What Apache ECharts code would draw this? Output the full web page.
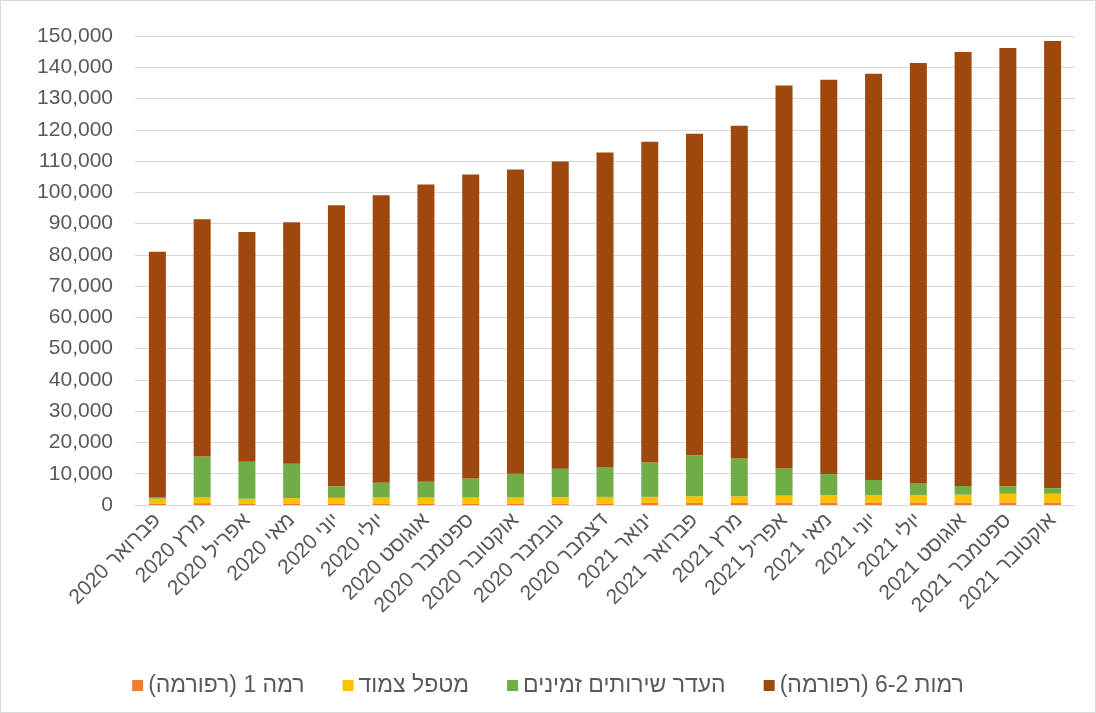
<!DOCTYPE html>
<html>
<head>
<meta charset="utf-8">
<script src="https://cdn.jsdelivr.net/npm/echarts@6/dist/echarts.min.js"></script>
<style>
html,body{margin:0;padding:0;background:#fff;}
#c{width:1096px;height:713px;box-sizing:border-box;border:1px solid #d9d9d9;direction:rtl;}
</style>
</head>
<body>
<div id="c"></div>
<script>
const categories = ['פברואר 2020','מרץ 2020','אפריל 2020','מאי 2020','יוני 2020','יולי 2020','אוגוסט 2020','ספטמבר 2020','אוקטובר 2020','נובמבר 2020','דצמבר 2020','ינואר 2021','פברואר 2021','מרץ 2021','אפריל 2021','מאי 2021','יוני 2021','יולי 2021','אוגוסט 2021','ספטמבר 2021','אוקטובר 2021'];
const seriesNames = ['רמה 1 (רפורמה)','מטפל צמוד','העדר שירותים זמינים','רמות 6-2 (רפורמה)'];
const level1 = [400,600,500,500,500,500,500,500,500,500,500,700,700,700,800,800,800,800,800,800,800];
const companion = [1600,1800,1500,1700,1800,1900,1900,1900,1900,2000,2100,1900,2100,2100,2200,2300,2400,2400,2500,2800,2800];
const noServices = [500,13100,11800,11000,3700,4700,5000,6100,7600,9100,9500,11000,13100,12100,8700,6800,4800,3700,2800,2400,1800];
const totals = [81000,91400,87300,90400,95900,99100,102500,105700,107300,109900,112700,116200,118700,121300,134200,136000,137900,141400,144900,146200,148400];
const levels2to6 = totals.map((t,i)=>t-level1[i]-companion[i]-noServices[i]);
const colors = ['#ED7D31','#FFC000','#70AD47','#9E480E'];
const dataSets = [level1, companion, noServices, levels2to6];

const chart = echarts.init(document.getElementById('c'));
chart.setOption({
  animation:false,
  color:colors,
  textStyle:{fontFamily:'Liberation Sans, Arial, sans-serif'},
  grid:{left:134,right:20,top:35,bottom:207,containLabel:false},
  legend:{
    data:seriesNames,
    top:668,
    left:'center',
    icon:'rect',
    itemWidth:11,itemHeight:11,
    itemGap:38,
    textStyle:{fontSize:23,color:'#595959'}
  },
  xAxis:{
    type:'category',
    data:categories,
    axisTick:{show:false},
    axisLine:{lineStyle:{color:'#d9d9d9',width:1}},
    axisLabel:{rotate:45,fontSize:21,color:'#595959',margin:12,interval:0}
  },
  yAxis:{
    type:'value',
    min:0,max:150000,interval:10000,
    axisLine:{show:false},
    axisTick:{show:false},
    splitLine:{lineStyle:{color:'#d9d9d9',width:1}},
    axisLabel:{fontSize:21,color:'#595959',margin:22,
      formatter:v=>v.toLocaleString('en-US')}
  },
  series:seriesNames.map((n,i)=>({
    name:n,type:'bar',stack:'total',barWidth:'38%',
    data:dataSets[i],itemStyle:{color:colors[i]}
  }))
});
</script>
</body>
</html>
